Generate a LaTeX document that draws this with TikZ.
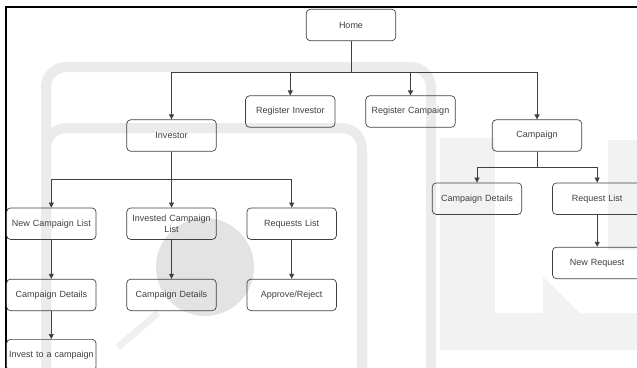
\documentclass[tikz,border=0pt]{standalone}
\usepackage{fontspec}
\setmainfont{Liberation Sans}
\usetikzlibrary{positioning,arrows.meta}

\begin{document}
\begin{tikzpicture}[
    x=1pt, y=-1pt,
    node distance=30pt and 30pt, % gap between sibling boxes
    font=\fontsize{9}{11}\selectfont,
    box/.style={
        rectangle,
        draw=black!75,
        text=black!75,
        text width=87pt,
        inner xsep=1pt,
        align=center,
        rounded corners=4pt,
        minimum width=89.5pt,
        minimum height=31.5pt,
        line width=0.7pt
    },
    line/.style={
        draw,
        -{Triangle[length=5pt,width=5pt]},
        line width=0.7pt,
        color=black!75
    },
    wmband/.style={
        draw=gray!16,
        line width=10pt,
        rounded corners=20pt
    },
    wmlight/.style={
        fill=gray!10
    }
]
    \useasboundingbox (0,0) rectangle (637,367);

    % --- Watermark (background) ---
    \fill [wmlight] (440,138) rectangle (495,313);
    \fill [wmlight] (440,313) rectangle (640,350);
    \fill [wmlight] (543,277) -- (543,313) -- (580,313) -- cycle;
    \fill [wmlight] (608,140) rectangle (640,250);
    \draw [wmband] (46,372) -- (46,67) -- (431,67) -- (431,372);
    \draw [wmband] (46,372) -- (46,128) -- (362,128) -- (362,372);
    \fill [gray!22] (205,267) circle (49pt);
    \draw [gray!12, line width=7pt] (158,313) -- (118,347);

    % --- Frame ---
    \draw [line width=2pt] (6,372) -- (6,7) -- (640,7);

    % --- Nodes ---

    % Top level
    \node [box] (home) at (351,25) {Home};
    \node [box] (regcamp) at (410.5,111.5) {Register Campaign};
    \node [box, left=of regcamp] (reginv) {Register Investor};
    \node [box] (inv) at (171.5,135.5) {Investor};
    \node [box] (camp) at (537,135.5) {Campaign};

    % Investor branch
    \node [box, below=56pt of inv] (invlist) {Invested Campaign\\List};
    \node [box, left=of invlist] (newlist) {New Campaign List};
    \node [box, right=of invlist] (reqlist) {Requests List};
    \node [box, below=39pt of newlist] (newdet) {Campaign Details};
    \node [box, below=39pt of invlist] (invdet) {Campaign Details};
    \node [box, below=39pt of reqlist] (approve) {Approve/Reject};
    \node [box, below=28pt of newdet] (investto) {Invest to a campaign};

    % Campaign branch
    \node [box, below=31pt of camp, xshift=-60pt] (campdet) {Campaign Details};
    \node [box, right=of campdet] (reqs) {Request List};
    \node [box, below=32pt of reqs] (newreq) {New Request};

    % --- Connections ---

    % Home to first level
    \coordinate [below=31pt of home] (hbus);
    \foreach \dst in {inv, reginv, regcamp, camp}
        \path [line] (home) -- (hbus) -| (\dst);

    % Investor to its lists
    \coordinate [below=28pt of inv] (ibus);
    \foreach \dst in {newlist, invlist, reqlist}
        \path [line] (inv) -- (ibus) -| (\dst);

    % Campaign to its pages
    \coordinate [below=16pt of camp] (cbus);
    \foreach \dst in {campdet, reqs}
        \path [line] (camp) -- (cbus) -| (\dst);

    % Straight down
    \path [line] (newlist) -- (newdet);
    \path [line] (newdet) -- (investto);
    \path [line] (invlist) -- (invdet);
    \path [line] (reqlist) -- (approve);
    \path [line] (reqs) -- (newreq);

\end{tikzpicture}
\end{document}
